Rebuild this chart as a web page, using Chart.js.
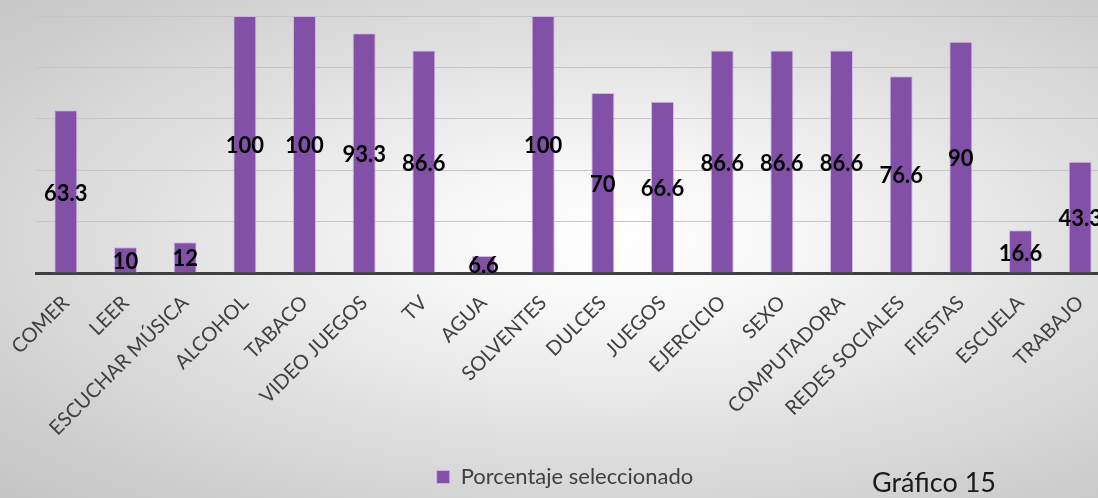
<!DOCTYPE html>
<html>
<head>
<meta charset="utf-8">
<script src="https://cdn.jsdelivr.net/npm/chart.js@4"></script>
<style>
  html, body { margin: 0; padding: 0; width: 1098px; height: 498px; overflow: hidden; }
  body {
    background: radial-gradient(ellipse farthest-corner at 56% 48%, #ffffff 0%, #f6f6f6 22%, #d6d6d6 70%, #c4c4c4 100%);
    font-family: Lato, sans-serif;
  }
  #wrap { position: absolute; left: 0; top: 0; width: 1110px; height: 498px; }
  #caption { position: absolute; left: 872px; top: 465px; font-size: 27px; color: #1a1a1a; font-family: Lato, sans-serif; }
</style>
</head>
<body>
<div id="wrap"><canvas id="grafico"></canvas></div>
<div id="caption">Gráfico 15</div>
<script>
const categorias = ['COMER', 'LEER', 'ESCUCHAR MÚSICA', 'ALCOHOL', 'TABACO', 'VIDEO JUEGOS', 'TV', 'AGUA',
    'SOLVENTES', 'DULCES', 'JUEGOS', 'EJERCICIO', 'SEXO', 'COMPUTADORA', 'REDES SOCIALES', 'FIESTAS', 'ESCUELA', 'TRABAJO'];
const porcentajes = [63.3, 10, 12, 100, 100, 93.3, 86.6, 6.6, 100, 70, 66.6, 86.6, 86.6, 86.6, 76.6, 90, 16.6, 43.3];
const serieNombre = 'Porcentaje seleccionado';

// etiquetas de valor en el centro de cada barra
const valueLabels = {
    id: 'valueLabels',
    afterDatasetsDraw(chart) {
        const ctx = chart.ctx;
        const meta = chart.getDatasetMeta(0);
        ctx.save();
        ctx.font = 'bold 22px Lato';
        ctx.fillStyle = '#000';
        ctx.textAlign = 'center';
        ctx.textBaseline = 'middle';
        meta.data.forEach((bar, i) => {
            ctx.fillText(String(porcentajes[i]), bar.x, (bar.y + bar.base) / 2 + 2);
        });
        ctx.restore();
    }
};

const ctx = document.getElementById('grafico').getContext('2d');
new Chart(ctx, {
    type: 'bar',
    data: {
        labels: categorias,
        datasets: [{
            label: serieNombre,
            data: porcentajes,
            backgroundColor: '#8350a8',
            borderColor: 'rgba(205,180,228,0.9)',
            borderWidth: 1,
            barPercentage: 1,
            categoryPercentage: 0.385
        }]
    },
    options: {
        responsive: true,
        maintainAspectRatio: false,
        animation: false,
        layout: { padding: { top: 16, left: 20, right: 0, bottom: 0 } },
        plugins: {
            tooltip: { enabled: false },
            legend: {
                position: 'bottom',
                labels: {
                    font: { family: 'Lato', size: 22 },
                    color: '#404040',
                    boxWidth: 13,
                    boxHeight: 13,
                    padding: 10
                }
            }
        },
        scales: {
            x: {
                grid: { display: false },
                border: { color: '#404040', width: 3 },
                ticks: {
                    color: '#404040',
                    font: { family: 'Lato', size: 20 },
                    minRotation: 45,
                    maxRotation: 45,
                    autoSkip: false,
                    padding: 10
                },
                afterFit(scale) { scale.height = 183; }
            },
            y: {
                min: 0,
                max: 100,
                ticks: { stepSize: 20, display: false },
                grid: { color: '#c6c6c6', lineWidth: 1, drawTicks: false },
                border: { display: false },
                afterFit(scale) { scale.width = 16; }
            }
        }
    },
    plugins: [valueLabels]
});
</script>
</body>
</html>
